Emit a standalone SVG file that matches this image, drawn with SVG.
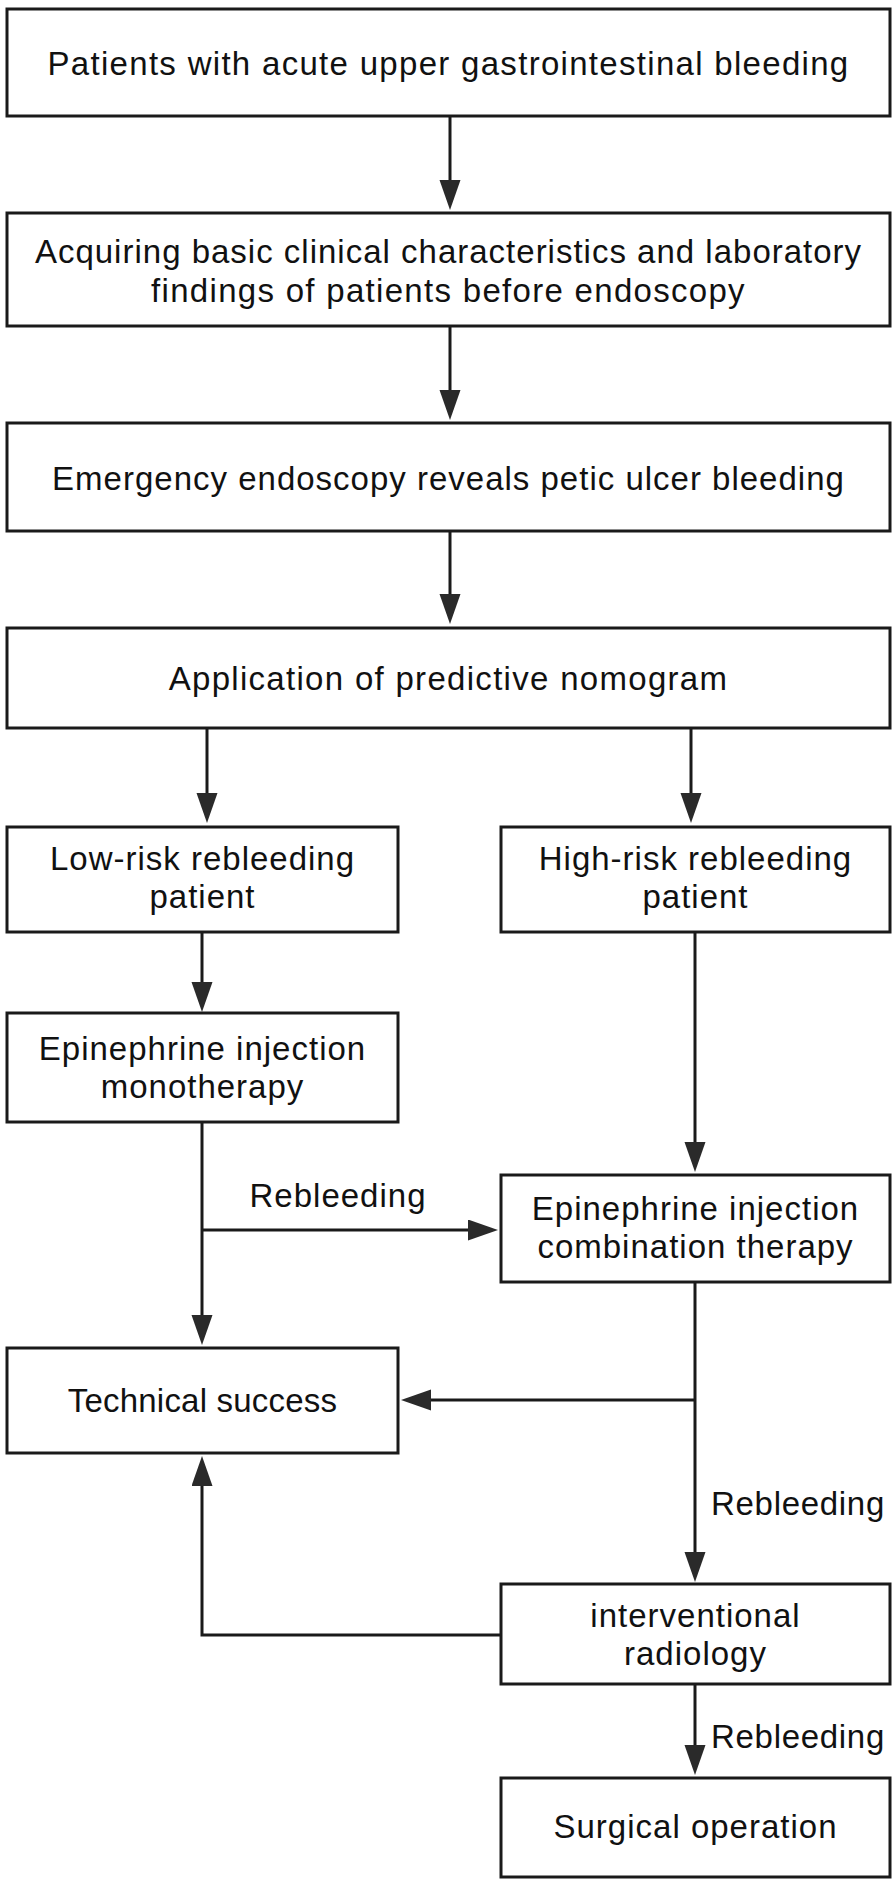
<svg xmlns="http://www.w3.org/2000/svg" width="896" height="1887" viewBox="0 0 896 1887">
<style>
.box{fill:#fff;stroke:#1a1a1a;stroke-width:3}
.t{font-family:"Liberation Sans",Arial,sans-serif;font-size:33px;fill:#111;text-anchor:middle;letter-spacing:1px}
.l{font-family:"Liberation Sans",Arial,sans-serif;font-size:33px;fill:#111;letter-spacing:0.7px}
.w{letter-spacing:1.3px}
.c{fill:none;stroke:#1a1a1a;stroke-width:3}
</style>
<defs>
<marker id="ah" markerUnits="userSpaceOnUse" markerWidth="30" markerHeight="22" refX="20" refY="10.5" orient="auto">
<path d="M0,0 L30,10.5 L0,21 z" fill="#2a2a2a"/>
</marker>
</defs>
<rect width="896" height="1887" fill="#fff"/>
<g id="connectors">
<path class="c" d="M450,116 V200" marker-end="url(#ah)"/>
<path class="c" d="M450,326 V410" marker-end="url(#ah)"/>
<path class="c" d="M450,531 V614" marker-end="url(#ah)"/>
<path class="c" d="M207,728 V813" marker-end="url(#ah)"/>
<path class="c" d="M691,728 V813" marker-end="url(#ah)"/>
<path class="c" d="M202,932 V1002" marker-end="url(#ah)"/>
<path class="c" d="M695,932 V1162" marker-end="url(#ah)"/>
<path class="c" d="M202,1122 V1335" marker-end="url(#ah)"/>
<path class="c" d="M202,1230 H488" marker-end="url(#ah)"/>
<path class="c" d="M695,1282 V1572" marker-end="url(#ah)"/>
<path class="c" d="M695,1400 H411" marker-end="url(#ah)"/>
<path class="c" d="M501,1635 H202 V1466" marker-end="url(#ah)"/>
<path class="c" d="M695,1684 V1765" marker-end="url(#ah)"/>
<text class="t" x="338" y="1207">Rebleeding</text>
<text class="l" x="711" y="1515">Rebleeding</text>
<text class="l" x="711" y="1748">Rebleeding</text>
</g>
<g id="n1"><rect class="box" x="7" y="9" width="883" height="107"/><text class="t w" x="448.5" y="75">Patients with acute upper gastrointestinal bleeding</text></g>
<g id="n2"><rect class="box" x="7" y="213" width="883" height="113"/><text class="t" x="448.5" y="263">Acquiring basic clinical characteristics and laboratory<tspan class="w" x="448.5" dy="38.5">findings of patients before endoscopy</tspan></text></g>
<g id="n3"><rect class="box" x="7" y="423" width="883" height="108"/><text class="t" x="448.5" y="490">Emergency endoscopy reveals petic ulcer bleeding</text></g>
<g id="n4"><rect class="box" x="7" y="628" width="883" height="100"/><text class="t w" x="448.5" y="690">Application of predictive nomogram</text></g>
<g id="n5"><rect class="box" x="7" y="827" width="391" height="105"/><text class="t" x="202.5" y="870">Low-risk rebleeding<tspan x="202.5" dy="38">patient</tspan></text></g>
<g id="n6"><rect class="box" x="501" y="827" width="389" height="105"/><text class="t" x="695.5" y="870">High-risk rebleeding<tspan x="695.5" dy="38">patient</tspan></text></g>
<g id="n7"><rect class="box" x="7" y="1013" width="391" height="109"/><text class="t" x="202.5" y="1060">Epinephrine injection<tspan x="202.5" dy="38">monotherapy</tspan></text></g>
<g id="n8"><rect class="box" x="501" y="1175" width="389" height="107"/><text class="t" x="695.5" y="1220">Epinephrine injection<tspan x="695.5" dy="38">combination therapy</tspan></text></g>
<g id="n9"><rect class="box" x="7" y="1348" width="391" height="105"/><text class="t" x="202.5" y="1412" style="letter-spacing:0.2px">Technical success</text></g>
<g id="n10"><rect class="box" x="501" y="1584" width="389" height="100"/><text class="t" x="695.5" y="1627">interventional<tspan x="695.5" dy="38">radiology</tspan></text></g>
<g id="n11"><rect class="box" x="501" y="1778" width="389" height="99"/><text class="t" x="695.5" y="1838">Surgical operation</text></g>
</svg>
